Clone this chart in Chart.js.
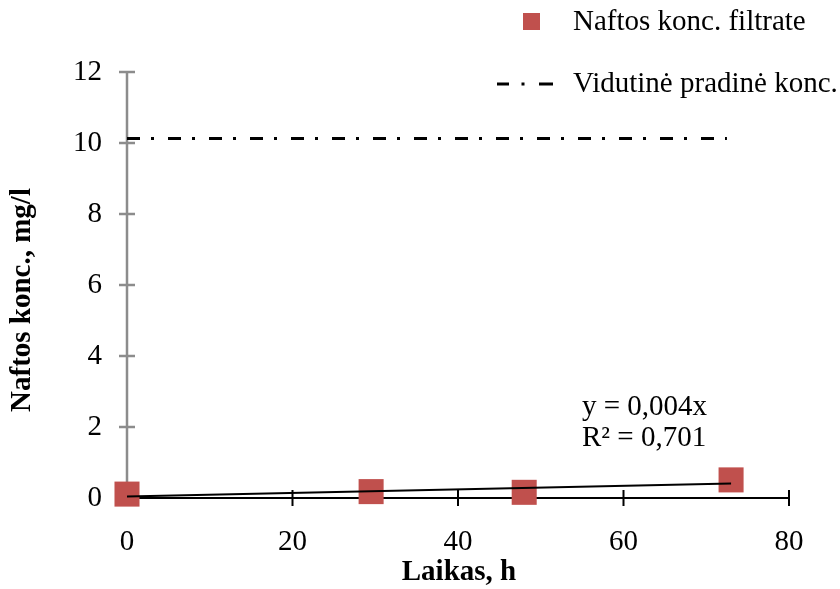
<!DOCTYPE html>
<html>
<head>
<meta charset="utf-8">
<script src="https://cdn.jsdelivr.net/npm/chart.js@4.4.0/dist/chart.umd.min.js"></script>
<style>
  body { margin: 0; background: #fff; }
</style>
</head>
<body>
<canvas id="naftaChart" width="840" height="589"></canvas>
<script>
// data
const hours = [0, 29.5, 48, 73];
const filtrateConc = [0.11, 0.18, 0.16, 0.51];
const trendX = [0, 73];
const trendY = [0.04, 0.41];
const initialX = [0, 72.5];
const initialConc = [10.13, 10.13];
const xTicks = [0, 20, 40, 60, 80];
const yTicks = [0, 2, 4, 6, 8, 10, 12];

const serif = '"Liberation Serif", "Times New Roman", serif';
const red = '#C0504D';

const toPoints = (xs, ys) => xs.map((x, i) => ({ x: x, y: ys[i] }));

// axes with ticks crossing the line, titles, legend and trend label
const decorPlugin = {
  id: 'decor',
  beforeDatasetsDraw(chart) {
    const c = chart.ctx;
    const xs = chart.scales.x, ys = chart.scales.y;
    const x0 = xs.getPixelForValue(0), y0 = ys.getPixelForValue(0);
    c.save();
    // y axis (gray)
    c.strokeStyle = '#8c8c8c';
    c.lineWidth = 2.5;
    c.beginPath();
    c.moveTo(x0, ys.getPixelForValue(12));
    c.lineTo(x0, y0);
    yTicks.forEach(v => {
      const p = ys.getPixelForValue(v);
      c.moveTo(x0 - 8, p);
      c.lineTo(x0 + 8, p);
    });
    c.stroke();
    // x axis (black)
    c.strokeStyle = '#000';
    c.lineWidth = 2;
    c.beginPath();
    c.moveTo(x0, y0);
    c.lineTo(xs.getPixelForValue(80), y0);
    xTicks.forEach(v => {
      const p = xs.getPixelForValue(v);
      c.moveTo(p, y0 - 8);
      c.lineTo(p, y0 + 8);
    });
    c.stroke();
    c.restore();
  },
  afterDraw(chart) {
    const c = chart.ctx;
    c.save();
    c.fillStyle = '#000';
    c.textBaseline = 'middle';
    // axis titles
    c.font = 'bold 29px ' + serif;
    c.textAlign = 'center';
    c.fillText('Laikas, h', 459, 573);
    c.save();
    c.translate(23, 300);
    c.rotate(-Math.PI / 2);
    c.fillText('Naftos konc., mg/l', 0, 0);
    c.restore();
    // trendline label
    c.font = '29px ' + serif;
    c.textAlign = 'left';
    c.fillText('y = 0,004x', 582, 407);
    c.fillText('R² = 0,701', 582, 438);
    // legend
    c.fillStyle = red;
    c.fillRect(523, 13, 17, 17);
    c.fillStyle = '#000';
    c.fillText('Naftos konc. filtrate', 573, 22);
    c.strokeStyle = '#000';
    c.lineWidth = 3;
    c.beginPath();
    c.moveTo(497, 84); c.lineTo(509, 84);
    c.moveTo(521.5, 84); c.lineTo(524.5, 84);
    c.moveTo(539, 84); c.lineTo(553, 84);
    c.stroke();
    c.fillText('Vidutinė pradinė konc.', 573, 84);
    c.restore();
  }
};

new Chart(document.getElementById('naftaChart'), {
  type: 'scatter',
  data: {
    datasets: [
      {
        label: 'trend',
        data: toPoints(trendX, trendY),
        showLine: true,
        borderColor: '#000',
        borderWidth: 2,
        pointRadius: 0,
        clip: false,
        order: 0
      },
      {
        label: 'Naftos konc. filtrate',
        data: toPoints(hours, filtrateConc),
        pointStyle: 'rect',
        pointRadius: 17.7,
        backgroundColor: red,
        borderColor: red,
        borderWidth: 0,
        clip: false,
        order: 1
      },
      {
        label: 'Vidutinė pradinė konc.',
        data: toPoints(initialX, initialConc),
        showLine: true,
        borderColor: '#000',
        borderWidth: 3,
        borderDash: [13, 11, 3, 14],
        pointRadius: 0,
        order: 2
      }
    ]
  },
  options: {
    responsive: false,
    animation: false,
    layout: { padding: { top: 72, right: 51, left: 0, bottom: 0 } },
    plugins: {
      legend: { display: false },
      tooltip: { enabled: false }
    },
    scales: {
      x: {
        type: 'linear',
        min: 0,
        max: 80,
        grid: { display: false, drawTicks: false },
        border: { display: false },
        ticks: {
          stepSize: 20,
          padding: 27,
          color: '#000',
          font: { family: serif, size: 29 }
        },
        afterFit(scale) { scale.height = 91; }
      },
      y: {
        min: 0,
        max: 12,
        grid: { display: false, drawTicks: false },
        border: { display: false },
        ticks: {
          stepSize: 2,
          padding: 25,
          color: '#000',
          font: { family: serif, size: 29 }
        },
        afterFit(scale) { scale.width = 127; }
      }
    }
  },
  plugins: [decorPlugin]
});
</script>
</body>
</html>
